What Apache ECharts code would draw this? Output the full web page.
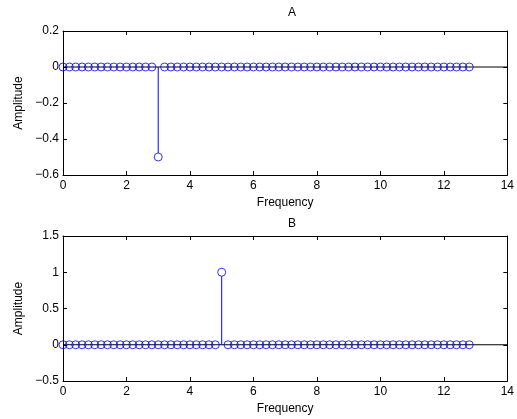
<!DOCTYPE html>
<html>
<head>
<meta charset="utf-8">
<script src="https://cdn.jsdelivr.net/npm/echarts@6/dist/echarts.min.js"></script>
<style>html,body{margin:0;padding:0;background:#fff}#c{width:517px;height:419px}</style>
</head>
<body>
<div id="c"></div>
<script>
// Frequencies 0..12.8 step 0.2 (65 bins)
const frequencies = [0,0.2,0.4,0.6,0.8,1,1.2,1.4,1.6,1.8,2,2.2,2.4,2.6,2.8,3,3.2,3.4,3.6,3.8,4,4.2,4.4,4.6,4.8,5,5.2,5.4,5.6,5.8,6,6.2,6.4,6.6,6.8,7,7.2,7.4,7.6,7.8,8,8.2,8.4,8.6,8.8,9,9.2,9.4,9.6,9.8,10,10.2,10.4,10.6,10.8,11,11.2,11.4,11.6,11.8,12,12.2,12.4,12.6,12.8];
const amplitudeA = frequencies.map(f => 0);
amplitudeA[15] = -0.5; // at 3
const amplitudeB = frequencies.map(f => 0);
amplitudeB[25] = 1;    // at 5
const titles = ['A', 'B'];
const yTicksA = [-0.6, -0.4, -0.2, 0, 0.2];
const yTicksB = [-0.5, 0, 0.5, 1, 1.5];
const xTicks = [0, 2, 4, 6, 8, 10, 12, 14];

const FONT = 'Liberation Sans, Arial, Helvetica, sans-serif';
const FS = 12;
const fmt = v => { const r = Math.round(v * 100) / 100; return (r < 0 ? '\u2212' : '') + Math.abs(r); };

function pts(vals) { return frequencies.map((f, i) => [f, vals[i]]); }

const grids = [
  {left: 63, top: 31, width: 448, height: 144},
  {left: 63, top: 236, width: 448, height: 145}
];

function xAxis(gi) {
  return {
    type: 'value', gridIndex: gi, min: xTicks[0], max: xTicks[xTicks.length - 1], interval: 2,
    name: 'Frequency', nameLocation: 'middle', nameGap: 22,
    nameTextStyle: {color: '#000', fontSize: FS, fontFamily: FONT},
    axisLine: {show: true, onZero: false, lineStyle: {color: '#000', width: 1}},
    axisTick: {show: true, inside: true, length: 4, lineStyle: {color: '#000'}},
    axisLabel: {color: '#000', fontSize: FS, fontFamily: FONT, margin: 5, formatter: fmt},
    splitLine: {show: false}
  };
}
function xAxisTop(gi) {
  return {
    type: 'value', gridIndex: gi, position: 'top', min: xTicks[0], max: xTicks[xTicks.length - 1], interval: 2,
    axisLine: {show: true, onZero: false, lineStyle: {color: '#000', width: 1}},
    axisTick: {show: true, inside: true, length: 4, lineStyle: {color: '#000'}},
    axisLabel: {show: false}, splitLine: {show: false}
  };
}
function yAxis(gi, ticks, interval) {
  return {
    type: 'value', gridIndex: gi, min: ticks[0], max: ticks[ticks.length - 1], interval: interval,
    name: 'Amplitude', nameLocation: 'middle', nameGap: 38, nameRotate: 90,
    nameTextStyle: {color: '#000', fontSize: FS, fontFamily: FONT},
    axisLine: {show: true, onZero: false, lineStyle: {color: '#000', width: 1}},
    axisTick: {show: true, inside: true, length: 4, lineStyle: {color: '#000'}},
    axisLabel: {color: '#000', fontSize: FS, fontFamily: FONT, margin: 4, formatter: fmt},
    splitLine: {show: false}
  };
}
function yAxisRight(gi, ticks, interval) {
  return {
    type: 'value', gridIndex: gi, position: 'right', min: ticks[0], max: ticks[ticks.length - 1], interval: interval,
    axisLine: {show: true, onZero: false, lineStyle: {color: '#000', width: 1}},
    axisTick: {show: true, inside: true, length: 4, lineStyle: {color: '#000'}},
    axisLabel: {show: false}, splitLine: {show: false}
  };
}

function stemSeries(xi, yi, vals) {
  return {
    type: 'custom', xAxisIndex: xi, yAxisIndex: yi, data: pts(vals), silent: true, z: 2,
    renderItem: function (params, api) {
      const p0 = api.coord([api.value(0), 0]);
      const p1 = api.coord([api.value(0), api.value(1)]);
      if (Math.abs(p0[1] - p1[1]) < 0.5) return null;
      return {type: 'line', shape: {x1: p0[0], y1: p0[1], x2: p1[0], y2: p1[1] + (p1[1] < p0[1] ? 4 : -4)},
        style: {stroke: '#0000ff', lineWidth: 1}};
    }
  };
}
function baseSeries(xi, yi) {
  return {
    type: 'line', xAxisIndex: xi, yAxisIndex: yi, data: [[0, 0], [14, 0]], symbol: 'none', silent: true, z: 1,
    lineStyle: {color: '#000', width: 1}
  };
}
function markSeries(xi, yi, vals) {
  return {
    type: 'scatter', xAxisIndex: xi, yAxisIndex: yi, data: pts(vals), symbol: 'circle', symbolSize: 8, z: 3,
    itemStyle: {color: 'rgba(0,0,0,0)', borderColor: '#0000ff', borderWidth: 1}
  };
}

const option = {
  animation: false,
  backgroundColor: '#fff',
  title: [
    {text: titles[0], left: 287, top: 2, textAlign: 'center', textStyle: {fontSize: FS, fontWeight: 'normal', color: '#000', fontFamily: FONT}},
    {text: titles[1], left: 287, top: 213, textAlign: 'center', textStyle: {fontSize: FS, fontWeight: 'normal', color: '#000', fontFamily: FONT}}
  ],
  grid: grids,
  xAxis: [xAxis(0), xAxisTop(0), xAxis(1), xAxisTop(1)],
  yAxis: [yAxis(0, yTicksA, 0.2), yAxisRight(0, yTicksA, 0.2), yAxis(1, yTicksB, 0.5), yAxisRight(1, yTicksB, 0.5)],
  series: [
    baseSeries(0, 0), stemSeries(0, 0, amplitudeA), markSeries(0, 0, amplitudeA),
    baseSeries(2, 2), stemSeries(2, 2, amplitudeB), markSeries(2, 2, amplitudeB)
  ]
};
const chart = echarts.init(document.getElementById('c'), null, {renderer: 'canvas'});
chart.setOption(option);
</script>
</body>
</html>
